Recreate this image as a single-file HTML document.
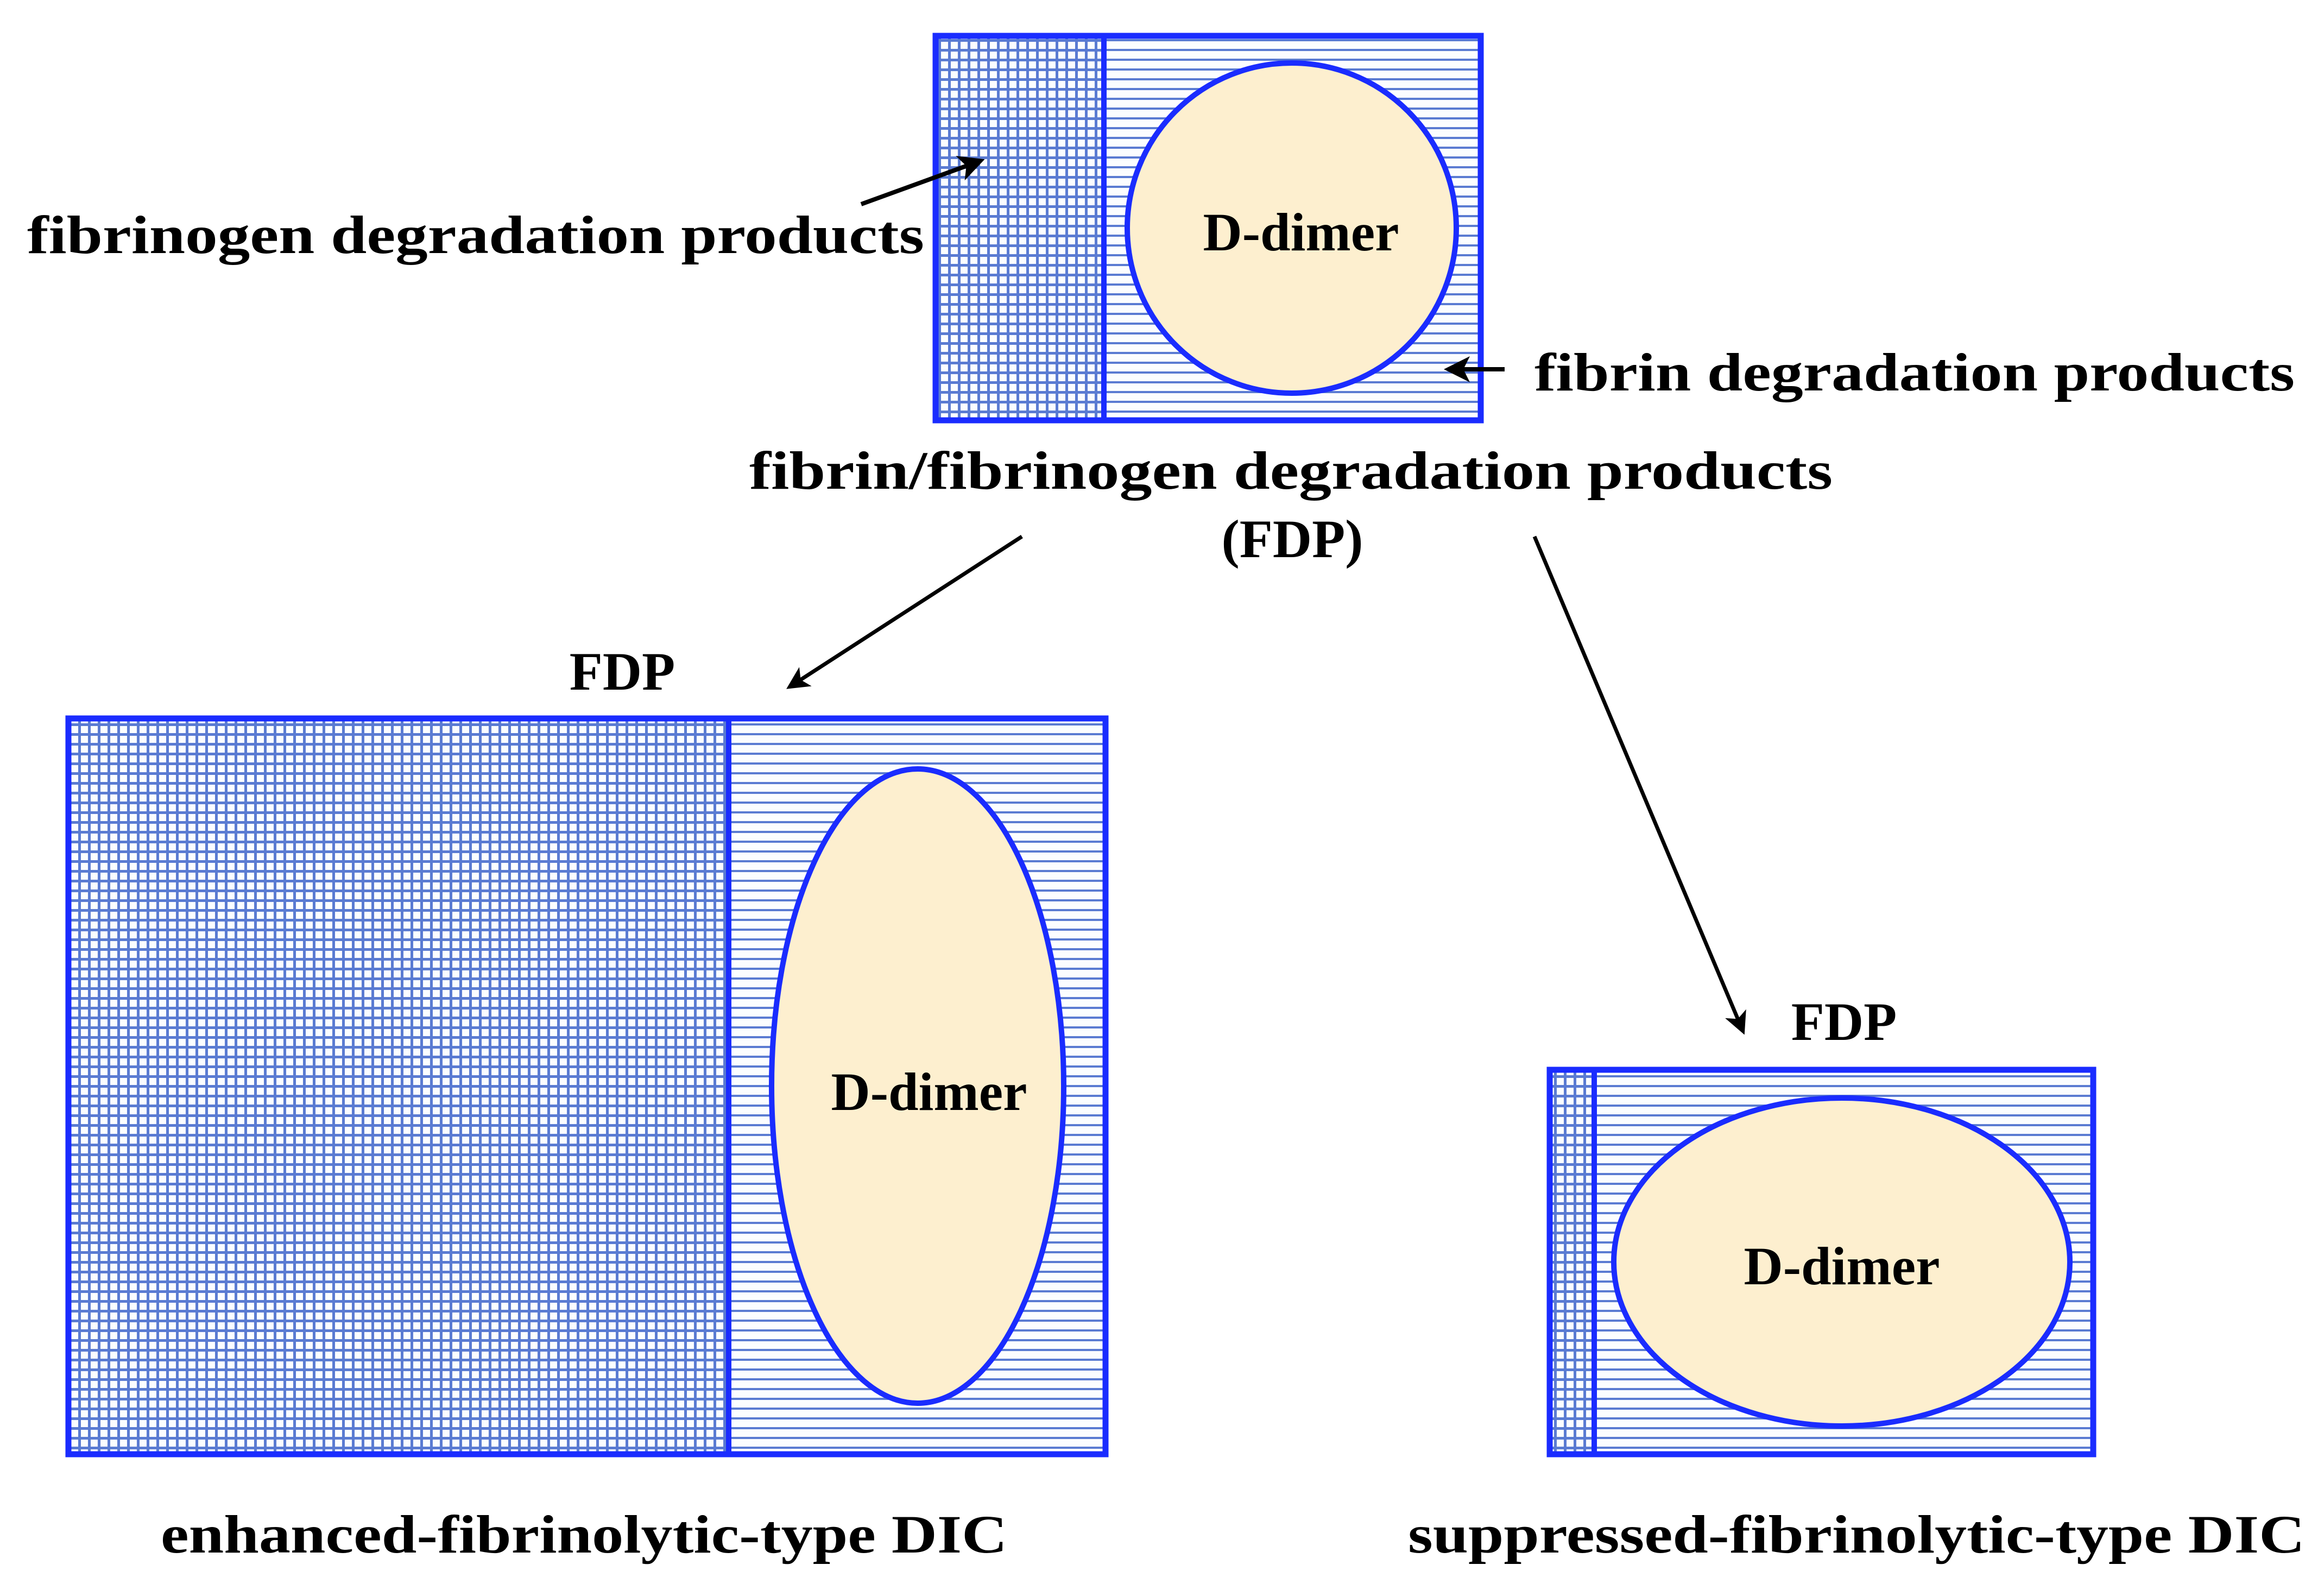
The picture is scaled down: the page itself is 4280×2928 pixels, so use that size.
<!DOCTYPE html>
<html><head><meta charset="utf-8"><style>
html,body{margin:0;padding:0;background:#fff;}
svg{display:block;}
text{font-family:"Liberation Serif",serif;font-weight:bold;fill:#000;}
</style></head><body>
<svg width="4280" height="2928" viewBox="0 0 4280 2928" xmlns="http://www.w3.org/2000/svg">
<defs>
<pattern id="grid" width="18" height="18" patternUnits="userSpaceOnUse">
<rect width="18" height="18" fill="#fbfdff"/>
<rect x="0" y="0" width="18" height="5" fill="#5a7bd2"/>
<rect x="0" y="0" width="5" height="18" fill="#5a7bd2"/>
</pattern>
<pattern id="hl" width="18" height="18" patternUnits="userSpaceOnUse">
<rect width="18" height="18" fill="#fbfdff"/>
<rect x="0" y="0" width="18" height="4" fill="#5a7bd2"/>
</pattern>
<marker id="ah" markerWidth="6" markerHeight="6" refX="5" refY="3" orient="auto" markerUnits="strokeWidth">
<path d="M0,0 L6,3 L0,6 L1.5,3 z" fill="#000"/>
</marker>
</defs>

<!-- top box -->
<rect x="1723" y="66" width="310" height="708" fill="url(#grid)"/>
<rect x="2033" y="66" width="694" height="708" fill="url(#hl)"/>
<line x1="2033" y1="66" x2="2033" y2="774" stroke="#1a2cff" stroke-width="10"/>
<rect x="1723" y="66" width="1004" height="708" fill="none" stroke="#1a2cff" stroke-width="11"/>
<ellipse cx="2379" cy="420" rx="303" ry="304" fill="#fdefcf" stroke="#1a2cff" stroke-width="10"/>
<text x="2396" y="461" font-size="100" text-anchor="middle">D-dimer</text>

<!-- big box -->
<rect x="126" y="1323" width="1216" height="1355" fill="url(#grid)"/>
<rect x="1342" y="1323" width="694" height="1355" fill="url(#hl)"/>
<line x1="1342" y1="1323" x2="1342" y2="2678" stroke="#1a2cff" stroke-width="10"/>
<rect x="126" y="1323" width="1910" height="1355" fill="none" stroke="#1a2cff" stroke-width="11"/>
<ellipse cx="1690" cy="2000" rx="269" ry="584" fill="#fdefcf" stroke="#1a2cff" stroke-width="10"/>
<text x="1711" y="2044" font-size="100" text-anchor="middle">D-dimer</text>

<!-- small box -->
<rect x="2854" y="1970" width="82" height="708" fill="url(#grid)"/>
<rect x="2936" y="1970" width="919" height="708" fill="url(#hl)"/>
<line x1="2936" y1="1970" x2="2936" y2="2678" stroke="#1a2cff" stroke-width="10"/>
<rect x="2854" y="1970" width="1001" height="708" fill="none" stroke="#1a2cff" stroke-width="11"/>
<ellipse cx="3392" cy="2324" rx="420" ry="302" fill="#fdefcf" stroke="#1a2cff" stroke-width="10"/>
<text x="3392" y="2365" font-size="100" text-anchor="middle">D-dimer</text>

<!-- arrows -->
<line x1="1586" y1="376" x2="1806" y2="296" stroke="#000" stroke-width="8" marker-end="url(#ah)"/>
<line x1="2771" y1="680" x2="2667" y2="680" stroke="#000" stroke-width="8" marker-end="url(#ah)"/>
<line x1="1882" y1="988" x2="1454" y2="1265" stroke="#000" stroke-width="7" marker-end="url(#ah)"/>
<line x1="2826" y1="988" x2="3210" y2="1899" stroke="#000" stroke-width="7" marker-end="url(#ah)"/>

<!-- labels -->
<text x="50" y="466" font-size="100" textLength="1652" lengthAdjust="spacingAndGlyphs">fibrinogen degradation products</text>
<text x="2826" y="719" font-size="100" textLength="1400" lengthAdjust="spacingAndGlyphs">fibrin degradation products</text>
<text x="1380" y="900" font-size="100" textLength="1995" lengthAdjust="spacingAndGlyphs">fibrin/fibrinogen degradation products</text>
<text x="2380" y="1026" font-size="100" text-anchor="middle">(FDP)</text>
<text x="1146" y="1270" font-size="100" text-anchor="middle">FDP</text>
<text x="3396" y="1915" font-size="100" text-anchor="middle">FDP</text>
<text x="296" y="2859" font-size="100" textLength="1559" lengthAdjust="spacingAndGlyphs">enhanced-fibrinolytic-type DIC</text>
<text x="2593" y="2859" font-size="100" textLength="1652" lengthAdjust="spacingAndGlyphs">suppressed-fibrinolytic-type DIC</text>
</svg>
</body></html>
